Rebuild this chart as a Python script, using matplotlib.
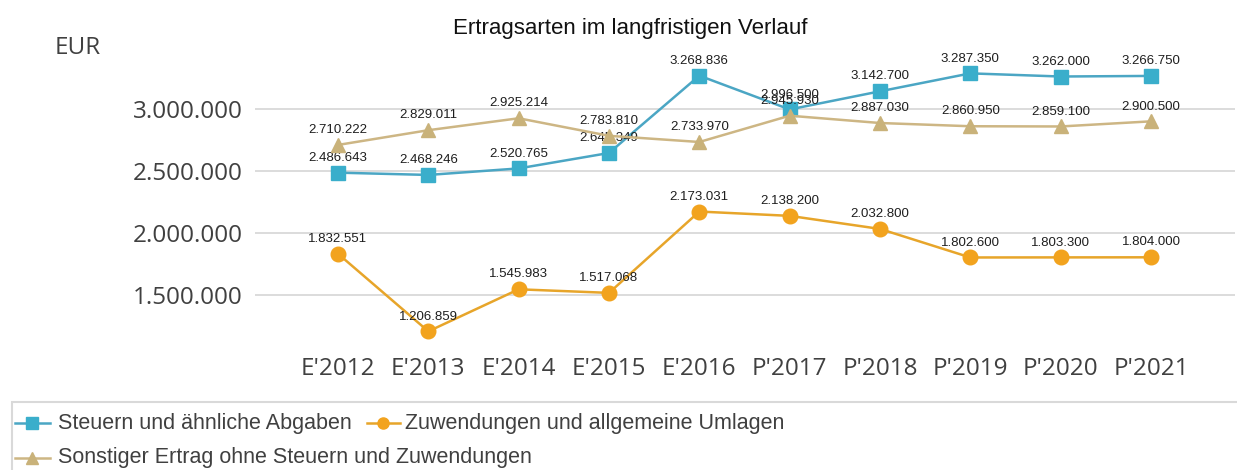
#!/usr/bin/env python3
"""Ertragsarten im langfristigen Verlauf - three income series, 2012-2021."""
import matplotlib
matplotlib.use("Agg")
import matplotlib.pyplot as plt
from matplotlib.lines import Line2D
from matplotlib.patches import Rectangle

W, H = 1237, 470

YEARS = ["E'2012", "E'2013", "E'2014", "E'2015", "E'2016",
         "P'2017", "P'2018", "P'2019", "P'2020", "P'2021"]
STEUERN = [2486643, 2468246, 2520765, 2645349, 3268836,
           2996500, 3142700, 3287350, 3262000, 3266750]
ZUWENDUNGEN = [1832551, 1206859, 1545983, 1517068, 2173031,
               2138200, 2032800, 1802600, 1803300, 1804000]
SONSTIGE = [2710222, 2829011, 2925214, 2783810, 2733970,
            2945930, 2887030, 2860950, 2859100, 2900500]
YTICKS = [1500000, 2000000, 2500000, 3000000]

SERIES = [
    ("Steuern und ähnliche Abgaben", STEUERN, "s", "#3AAECB", "#4BA6C4"),
    ("Zuwendungen und allgemeine Umlagen", ZUWENDUNGEN, "o", "#F2A31E", "#E7A52A"),
    ("Sonstiger Ertrag ohne Steuern und Zuwendungen", SONSTIGE, "^", "#C9B27A", "#CDB684"),
]

TICK_FONT = ["Open Sans", "DejaVu Sans"]
LABEL_FONT = ["Liberation Sans Narrow", "Liberation Sans", "DejaVu Sans"]
TEXT_FONT = ["Liberation Sans", "DejaVu Sans"]


def fx(x):
    return x / W


def fy(y):
    return 1 - y / H


def de_num(v):
    return f"{v:,.0f}".replace(",", ".")


def main():
    fig = plt.figure(figsize=(W / 100, H / 100), dpi=100)
    ax = fig.add_axes([fx(255), fy(344.6), fx(1235) - fx(255), fy(53.2) - fy(344.6)])

    x = list(range(len(YEARS)))
    for i, (name, vals, mk, mcol, lcol) in enumerate(SERIES):
        z = 3 + i
        ax.plot(x, vals, color=lcol, linewidth=1.8, zorder=z)
        ax.plot(x, vals, linestyle="none", marker=mk, markersize=10.5,
                markerfacecolor=mcol, markeredgecolor=mcol, zorder=z)
        for xi, v in zip(x, vals):
            ax.annotate(de_num(v), (xi, v), xytext=(0, 8.5), textcoords="offset points",
                        ha="center", va="baseline", fontsize=9.5, color="#1E1E1E",
                        family=LABEL_FONT, zorder=z)

    ax.set_xlim(-0.919, 9.93)
    ax.set_ylim(1100000, 3450000)
    ax.set_yticks(YTICKS)
    ax.set_yticklabels([de_num(v) for v in YTICKS], family=TICK_FONT,
                       fontsize=17.5, color="#404040")
    ax.set_xticks(x)
    ax.set_xticklabels(YEARS, family=TICK_FONT, fontsize=17.5, color="#404040")
    ax.tick_params(axis="both", length=0)
    ax.tick_params(axis="y", pad=9)
    ax.tick_params(axis="x", pad=9)
    ax.grid(axis="y", color="#D9D9D9", linewidth=1.3)
    ax.set_axisbelow(True)
    for s in ax.spines.values():
        s.set_visible(False)

    fig.text(fx(630), fy(34), "Ertragsarten im langfristigen Verlauf",
             ha="center", va="baseline", fontsize=16, color="#111111", family=TEXT_FONT)
    fig.text(fx(55), fy(48), "EUR", ha="left", va="center", fontsize=17.5,
             color="#404040", family=TICK_FONT)

    # legend box, runs off the bottom/right edge like the source
    fig.add_artist(Rectangle((fx(12), fy(520)), fx(1300) - fx(12), fy(402) - fy(520),
                             transform=fig.transFigure, facecolor="none",
                             edgecolor="#D9D9D9", linewidth=1.5, clip_on=False))
    entries = [(0, 15, 50, 32, 58, 423), (1, 367, 400, 383, 405, 423),
               (2, 15, 50, 32, 58, 458)]
    for idx, x0, x1, xm, xt, yc in entries:
        name, _, mk, mcol, lcol = SERIES[idx]
        fig.add_artist(Line2D([fx(x0), fx(x1)], [fy(yc), fy(yc)], color=lcol,
                              linewidth=1.8, transform=fig.transFigure))
        fig.add_artist(Line2D([fx(xm)], [fy(yc)], marker=mk, markersize=8,
                              markerfacecolor=mcol, markeredgecolor=mcol,
                              linestyle="none", transform=fig.transFigure))
        fig.text(fx(xt), fy(yc), name, ha="left", va="center", fontsize=15.5,
                 color="#404040", family=TEXT_FONT)

    fig.savefig("out.png", dpi=100)


if __name__ == "__main__":
    main()
